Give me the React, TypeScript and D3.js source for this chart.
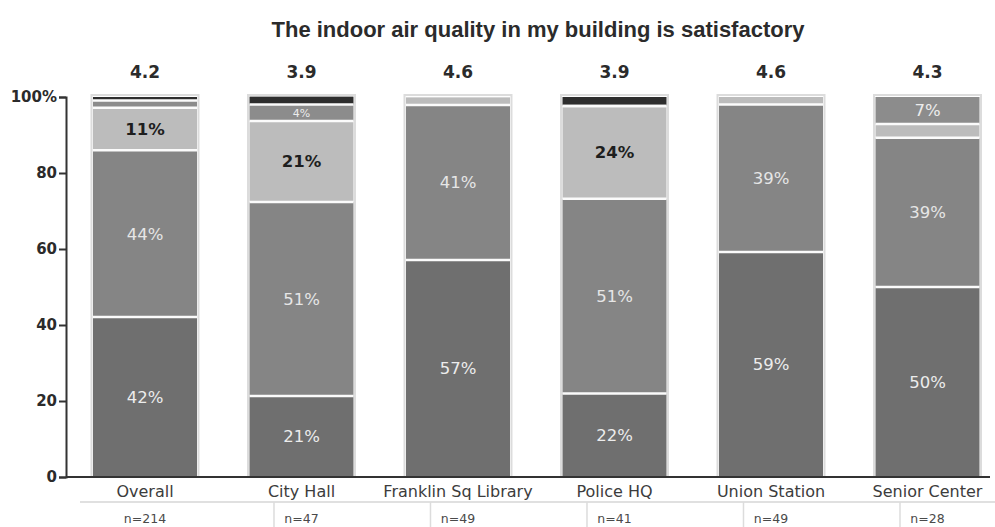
import React, { useEffect, useRef } from 'react';
import * as d3 from 'd3';

const categories = ['Overall', 'City Hall', 'Franklin Sq Library', 'Police HQ', 'Union Station', 'Senior Center'];
const sampleSizes = [214, 47, 49, 41, 49, 28];
const meanScores = ['4.2', '3.9', '4.6', '3.9', '4.6', '4.3'];
const stronglyAgree = [42.1, 21.3, 57.1, 22.0, 59.2, 50.0];
const agree = [43.9, 51.1, 40.8, 51.2, 38.8, 39.3];
const neutral = [11.2, 21.3, 2.0, 24.4, 2.0, 3.6];
const disagree = [1.9, 4.3, 0, 0, 0, 7.1];
const stronglyDisagree = [0.9, 2.1, 0, 2.4, 0, 0];
const yTicks = [0, 20, 40, 60, 80, 100];

const seriesKeys = ['sa', 'a', 'n', 'd', 'sd'];
const fills = { sa: '#6f6f6f', a: '#858585', n: '#bcbcbc', d: '#8c8c8c', sd: '#2e2e2e' };
const labelFill = { sa: '#ececec', a: '#e6e6e6', n: '#1e1e1e', d: '#ececec', sd: '#ececec' };

const W = 995;
const H = 527;

const App = () => {
    const canvas = useRef<SVGSVGElement>(null);

    useEffect(() => {
        const svg = d3.select(canvas.current);
        svg.selectAll('*').remove();

        const rows = categories.map((c, i) => ({
            cat: c,
            sa: stronglyAgree[i],
            a: agree[i],
            n: neutral[i],
            d: disagree[i],
            sd: stronglyDisagree[i],
        }));

        const x = d3.scaleBand()
            .domain(categories)
            .range([66, 1006.5])
            .paddingInner(0.3355)
            .paddingOuter(0.1725);

        const y = d3.scaleLinear().domain([0, 100]).range([477, 97]);

        const stack = d3.stack<any>().keys(seriesKeys)(rows);
        const bw = x.bandwidth();

        // title
        svg.append('text')
            .attr('x', 538)
            .attr('y', 37)
            .attr('text-anchor', 'middle')
            .style('font-family', '"Liberation Sans", Arial, sans-serif')
            .style('font-weight', 'bold')
            .style('font-size', '22px')
            .style('fill', '#2b2b2b')
            .text('The indoor air quality in my building is satisfactory');

        // light halo round each bar
        svg.append('g').selectAll('rect').data(rows).enter().append('rect')
            .attr('x', d => x(d.cat)! - 1.5)
            .attr('y', y(100) - 2)
            .attr('width', bw + 3)
            .attr('height', y(0) - y(100) + 2)
            .attr('fill', 'none')
            .attr('stroke', '#dcdcdc')
            .attr('stroke-width', 2);

        const layers = svg.append('g').selectAll('g').data(stack).enter().append('g')
            .attr('fill', d => fills[d.key]);

        layers.selectAll('rect').data(d => d).enter().append('rect')
            .attr('x', d => x(d.data.cat)!)
            .attr('y', d => y(d[1]))
            .attr('width', bw)
            .attr('height', d => Math.max(0, y(d[0]) - y(d[1])));

        // white separators between segments
        stack.slice(0, -1).forEach(layer => {
            svg.append('g').selectAll('line').data(layer.filter(d => d[1] < 99.5)).enter().append('line')
                .attr('x1', d => x(d.data.cat)!)
                .attr('x2', d => x(d.data.cat)! + bw)
                .attr('y1', d => y(d[1]))
                .attr('y2', d => y(d[1]))
                .attr('stroke', '#fbfbfb')
                .attr('stroke-width', 2.5);
        });

        // segment labels
        stack.forEach(layer => {
            const key = layer.key;
            svg.append('g').selectAll('text').data(layer.filter(d => d[1] - d[0] >= 4)).enter().append('text')
                .attr('x', d => x(d.data.cat)! + bw / 2)
                .attr('y', d => (y(d[0]) + y(d[1])) / 2)
                .attr('dy', '0.36em')
                .attr('text-anchor', 'middle')
                .style('font-family', '"DejaVu Sans", Verdana, sans-serif')
                .style('font-size', d => (d[1] - d[0] < 6 ? '11px' : '16.5px'))
                .style('font-weight', key === 'n' ? 'bold' : 'normal')
                .style('fill', labelFill[key])
                .text(d => Math.round(d[1] - d[0]) + '%');
        });

        // mean scores
        svg.append('g').selectAll('text').data(rows).enter().append('text')
            .attr('x', d => x(d.cat)! + bw / 2)
            .attr('y', 78)
            .attr('text-anchor', 'middle')
            .style('font-family', '"DejaVu Sans", Verdana, sans-serif')
            .style('font-weight', 'bold')
            .style('font-size', '17px')
            .style('fill', '#2b2b2b')
            .text((_, i) => meanScores[i]);

        // y axis
        const yAxis = svg.append('g')
            .attr('transform', 'translate(66,0)')
            .call(d3.axisLeft(y).tickValues(yTicks).tickSize(7).tickPadding(2)
                .tickFormat(d => (d === 100 ? '100%' : String(d))));
        yAxis.select('.domain').attr('stroke', '#333').attr('stroke-width', 2);
        yAxis.selectAll('.tick line').attr('stroke', '#333').attr('stroke-width', 2);
        yAxis.selectAll('.tick text')
            .style('font-family', '"DejaVu Sans", Verdana, sans-serif')
            .style('font-weight', 'bold')
            .style('font-size', '15px')
            .style('fill', '#2b2b2b');

        // x baseline
        svg.append('line')
            .attr('x1', 66).attr('x2', 990)
            .attr('y1', y(0)).attr('y2', y(0))
            .attr('stroke', '#333').attr('stroke-width', 2);

        // category labels
        svg.append('g').selectAll('text').data(rows).enter().append('text')
            .attr('x', d => x(d.cat)! + bw / 2)
            .attr('y', 497)
            .attr('text-anchor', 'middle')
            .style('font-family', '"DejaVu Sans", Verdana, sans-serif')
            .style('font-size', '16px')
            .style('fill', '#3c3c3c')
            .text(d => d.cat);

        // n table
        svg.append('line')
            .attr('x1', 80).attr('x2', 995)
            .attr('y1', 502).attr('y2', 502)
            .attr('stroke', '#d6d6d6').attr('stroke-width', 1.5);

        svg.append('g').selectAll('line').data(rows.slice(0, -1)).enter().append('line')
            .attr('x1', d => x(d.cat)! + bw + 77)
            .attr('x2', d => x(d.cat)! + bw + 77)
            .attr('y1', 502).attr('y2', 527)
            .attr('stroke', '#dcdcdc').attr('stroke-width', 1.5);

        svg.append('g').selectAll('text').data(rows).enter().append('text')
            .attr('x', d => x(d.cat)! + bw / 2)
            .attr('y', 523)
            .attr('text-anchor', 'middle')
            .style('font-family', '"DejaVu Sans", Verdana, sans-serif')
            .style('font-size', '12.5px')
            .style('fill', '#4a4a4a')
            .text((_, i) => 'n=' + sampleSizes[i]);
    }, []);

    return (
        <svg
            ref={canvas}
            width={W}
            height={H}
            style={{ position: 'absolute', left: 0, top: 0, background: '#fff' }}
        />
    );
};

export default App;
